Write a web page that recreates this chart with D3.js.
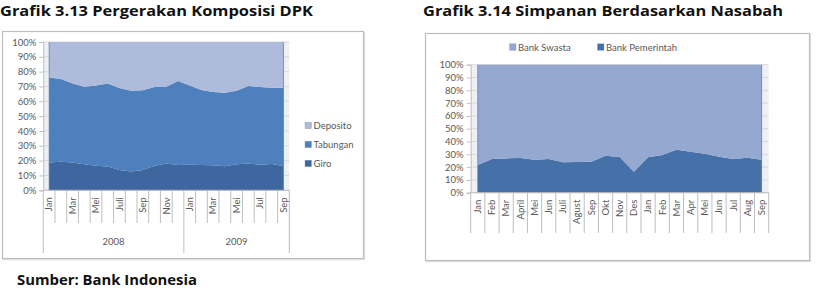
<!DOCTYPE html>
<html><head><meta charset="utf-8">
<script src="https://cdn.jsdelivr.net/npm/d3@7"></script>
<style>
body{margin:0;background:#fff;}
svg{display:block;font-family:Lato,"Open Sans",sans-serif;}
</style></head>
<body><svg id="c" width="817" height="290"></svg>
<script>
// ---------- DATA ----------
const title1 = "Grafik 3.13 Pergerakan Komposisi DPK";
const title2 = "Grafik 3.14 Simpanan Berdasarkan Nasabah";
const source = "Sumber: Bank Indonesia";

const months1 = ["Jan","Feb","Mar","Apr","Mei","Jun","Juli","Agu","Sep","Okt","Nov","Des",
                 "Jan","Feb","Mar","Apr","Mei","Jun","Jul","Agu","Sep"];
const monthLabels1 = ["Jan","","Mar","","Mei","","Juli","","Sep","","Nov","",
                      "Jan","","Mar","","Mei","","Jul","","Sep"];
const years1 = ["2008","2009"];
const yearCounts1 = [12, 9];
const giro = [18.7,19.3,18.7,17.5,16.6,16.0,13.7,12.6,13.7,16.6,18.0,17.1,17.3,17.0,16.9,16.2,17.5,18.0,17.3,17.8,16.4];
const tabungan = [57.3,55.8,53.4,52.4,54.0,56.1,55.3,54.6,53.7,53.1,51.9,56.6,53.3,50.6,49.4,49.6,49.7,52.3,52.4,51.4,52.8];
const deposito = [24.0,24.9,27.9,30.1,29.4,27.9,31.0,32.8,32.6,30.3,30.1,26.3,29.4,32.4,33.7,34.2,32.8,29.7,30.3,30.8,30.8];
const series1 = ["Giro","Tabungan","Deposito"];

const months2 = ["Jan","Feb","Mar","April","Mei","Jun","Juli","Agust","Sep","Okt","Nov","Des",
                 "Jan","Feb","Mar","Apr","Mei","Jun","Jul","Aug","Sep"];
const pemerintah = [21.6,26.3,26.8,27.1,25.8,26.3,23.7,24.0,24.2,28.9,27.9,16.4,27.6,29.4,33.6,32.0,30.5,28.1,26.3,27.3,25.8];
const swasta = [78.4,73.7,73.2,72.9,74.2,73.7,76.3,76.0,75.8,71.1,72.1,83.6,72.4,70.6,66.4,68.0,69.5,71.9,73.7,72.7,74.2];
const series2 = ["Bank Pemerintah","Bank Swasta"];

const yTicks = [0,10,20,30,40,50,60,70,80,90,100];

// ---------- STYLE ----------
const col1 = {"Giro":"#3e679f","Tabungan":"#4e80be","Deposito":"#afbbdb"};
const col2 = {"Bank Pemerintah":"#4570a8","Bank Swasta":"#94a8d0"};
const txt = "#595959", axisCol = "#bfbfbf", gridCol = "#d9d9d9";

const svg = d3.select("#c");

// titles
svg.append("text").attr("x",0).attr("y",15.5).attr("font-size",14.5).attr("font-weight","bold")
  .attr("font-family","'Open Sans',sans-serif").attr("textLength",313).attr("lengthAdjust","spacingAndGlyphs")
  .attr("fill","#111").text(title1);
svg.append("text").attr("x",423).attr("y",15.5).attr("font-size",14.5).attr("font-weight","bold")
  .attr("font-family","'Open Sans',sans-serif").attr("textLength",360).attr("lengthAdjust","spacingAndGlyphs")
  .attr("fill","#111").text(title2);
svg.append("text").attr("x",17).attr("y",285).attr("font-size",14.5).attr("font-weight","bold")
  .attr("font-family","'Open Sans',sans-serif").attr("textLength",180).attr("lengthAdjust","spacingAndGlyphs")
  .attr("fill","#111").text(source);

function drawChart(opt){
  const g = svg.append("g");
  // frame
  g.append("rect").attr("x",opt.box[0]+1).attr("y",opt.box[1]+1).attr("width",opt.box[2]).attr("height",opt.box[3])
    .attr("fill","none").attr("stroke","#e3e3e3").attr("stroke-width",1.5);
  g.append("rect").attr("x",opt.box[0]).attr("y",opt.box[1]).attr("width",opt.box[2]).attr("height",opt.box[3])
    .attr("fill","#fff").attr("stroke","#bdbdbd").attr("stroke-width",1.2);

  const n = opt.cats.length;
  const x = d3.scaleBand().domain(d3.range(n)).range(opt.xr).paddingInner(0).paddingOuter(0);
  const cx = i => x(i) + x.bandwidth()/2;
  const y = d3.scaleLinear().domain([0,100]).range(opt.yr);

  // plot background strip
  g.append("rect").attr("x",opt.xr[0]).attr("y",opt.yr[1]).attr("width",opt.xr[1]-opt.xr[0])
    .attr("height",opt.yr[0]-opt.yr[1]).attr("fill","#eef0f5");
  // gridlines
  g.append("g").selectAll("line").data(yTicks).join("line")
    .attr("x1",opt.xr[0]).attr("x2",opt.xr[1]).attr("y1",d=>y(d)).attr("y2",d=>y(d))
    .attr("stroke",gridCol).attr("stroke-width",1);

  // stacked area
  const rows = d3.range(n).map(i => { const r = {i}; opt.keys.forEach(k => r[k] = opt.data[k][i]); return r; });
  const stack = d3.stack().keys(opt.keys)(rows);
  const area = d3.area().x(d=>cx(d.data.i)).y0(d=>y(d[0])).y1(d=>y(d[1]));
  g.append("g").selectAll("path").data(stack).join("path")
    .attr("d",area).attr("fill",d=>opt.colors[d.key]);
  // edge outlines
  [0,n-1].forEach(i => g.append("line").attr("x1",cx(i)).attr("x2",cx(i))
    .attr("y1",y(0)).attr("y2",y(100)).attr("stroke","#5a74a0").attr("stroke-width",1).attr("opacity",0.7));

  // y axis
  const ya = g.append("g").attr("transform",`translate(${opt.xr[0]},0)`)
    .call(d3.axisLeft(y).tickValues(yTicks).tickFormat(d=>d+"%").tickSize(4).tickPadding(3));
  ya.select(".domain").attr("stroke",axisCol);
  ya.selectAll(".tick line").attr("stroke",axisCol);
  ya.selectAll("text").attr("fill",txt).attr("font-size",9.5).attr("font-family","Lato,sans-serif");

  // x axis
  g.append("line").attr("x1",opt.xr[0]).attr("x2",opt.xr[1]).attr("y1",y(0)).attr("y2",y(0)).attr("stroke",axisCol);
  g.append("g").selectAll("line").data(d3.range(n+1)).join("line")
    .attr("x1",i=> i<n ? x(i) : opt.xr[1]).attr("x2",i=> i<n ? x(i) : opt.xr[1])
    .attr("y1",y(0)).attr("y2",i => opt.groupBounds && opt.groupBounds.includes(i) ? opt.groupBottom : opt.tickBottom)
    .attr("stroke",axisCol).attr("stroke-width",1);
  g.append("g").selectAll("text").data(opt.labels.map((t,i)=>({t,i})).filter(d=>d.t!=="")).join("text")
    .attr("transform",d=>`translate(${cx(d.i)+3.3},${y(0)+7}) rotate(-90)`)
    .attr("text-anchor","end").attr("font-size",9.5).attr("fill",txt).text(d=>d.t);

  if (opt.groups){
    let start = 0;
    opt.groups.forEach((gname,gi) => {
      const end = start + opt.groupCounts[gi];
      const x0 = x(start), x1 = end < n ? x(end) : opt.xr[1];
      g.append("text").attr("x",(x0+x1)/2).attr("y",opt.groupY).attr("text-anchor","middle")
        .attr("font-size",9.5).attr("fill",txt).text(gname);
      start = end;
    });
  }

  // legend
  opt.legend.forEach(l => {
    g.append("rect").attr("x",l.x).attr("y",l.y-3.5).attr("width",6.5).attr("height",6.5)
      .attr("fill",opt.colors[l.key]).attr("stroke","#8b9bc0").attr("stroke-width",0.4);
    g.append("text").attr("x",l.x+8.5).attr("y",l.y+3.3).attr("font-size",9.5).attr("fill",txt).text(l.key);
  });
}

drawChart({
  box:[2.5,31.5,361,227],
  cats:months1, labels:monthLabels1,
  xr:[43.3,289.3], yr:[190.3,42],
  keys:series1, data:{"Giro":giro,"Tabungan":tabungan,"Deposito":deposito},
  colors:col1,
  groupBounds:[0,12,21], groupBottom:253, tickBottom:223,
  groups:years1, groupCounts:yearCounts1, groupY:245,
  legend:[{key:"Deposito",x:305,y:125.7},{key:"Tabungan",x:305,y:144.7},{key:"Giro",x:305,y:163.7}]
});

drawChart({
  box:[425.5,33.5,384,227],
  cats:months2, labels:months2,
  xr:[470.7,768.7], yr:[192.7,64.7],
  keys:series2, data:{"Bank Pemerintah":pemerintah,"Bank Swasta":swasta},
  colors:col2,
  groupBounds:null, groupBottom:233, tickBottom:233,
  legend:[{key:"Bank Swasta",x:509.5,y:47.3},{key:"Bank Pemerintah",x:597.5,y:47.3}]
});
</script></body></html>
